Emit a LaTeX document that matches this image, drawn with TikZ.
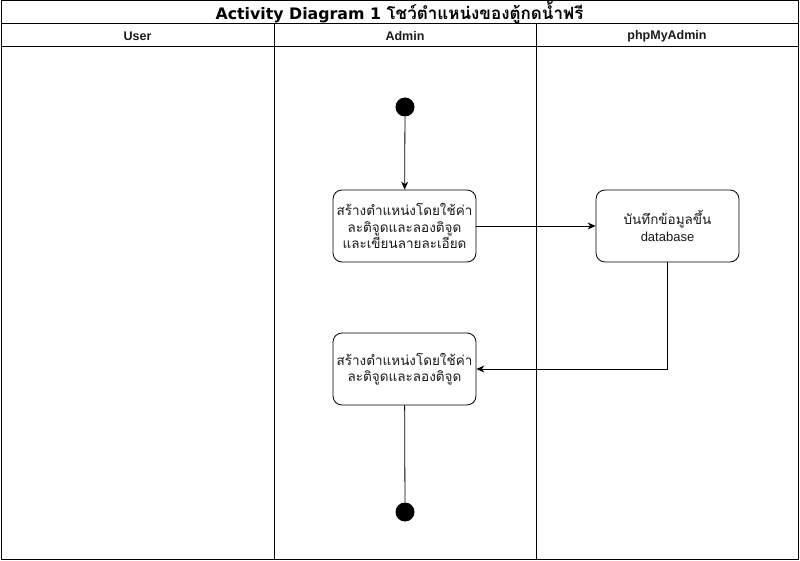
\documentclass[tikz,border=0pt]{standalone}
\usepackage{fontspec}
\setmainfont{Liberation Sans}
\newfontfamily\thaifont[Script=Thai]{Loma}
\newfontfamily\titlefont{DejaVu Sans}
\usetikzlibrary{arrows.meta}
\definecolor{txt}{HTML}{1A1A1A}
\begin{document}
\begin{tikzpicture}[x=1pt,y=-1pt,
  lane/.style={draw=black,line width=1pt},
  act/.style={draw=black,line width=0.8pt,rounded corners=9pt,fill=white,align=center,
    text=txt,font=\fontsize{13.5}{16.5}\selectfont\thaifont,inner sep=0pt},
  dot/.style={circle,fill=black,minimum size=19pt,inner sep=0pt},
  flow/.style={draw=black,line width=0.8pt,-{Stealth[length=8pt,width=7pt]}},
  hdr/.style={text=txt,font=\fontsize{12.5}{14}\selectfont\bfseries}]
\useasboundingbox (0,0) rectangle (800,561);
\fill[white] (0,0) rectangle (800,561);
% frame
\draw[lane] (1,1) rectangle (798,559);
\draw[lane] (1,24) -- (798,24);
\draw[lane] (1,47) -- (798,47);
\draw[lane] (274,24) -- (274,559);
\draw[lane] (536,24) -- (536,559);
% titles
\node (title) at (399.5,13) {\fontsize{15.8}{18}\selectfont\titlefont\bfseries Activity Diagram 1 {\thaifont\bfseries\fontsize{17}{18}\selectfont โชว์ตำแหน่งของตู้กดน้ำฟรี}};
\node[hdr] (huser) at (137.5,36) {User};
\node[hdr] (hadmin) at (405,36) {Admin};
\node[hdr] (hphp) at (667,36) {phpMyAdmin};
% nodes
\node[dot] (start) at (405,107) {};
\node[act,minimum width=143pt,minimum height=72pt] (a1) at (404.5,226)
  {สร้างตำแหน่งโดยใช้ค่า\\ละติจูดและลองติจูด\\และเขียนลายละเอียด};
\node[act,minimum width=143pt,minimum height=72pt] (a2) at (667.5,226)
  {บันทึกข้อมูลขึ้น\\{\normalfont\fontsize{13}{15}\selectfont database}};
\node[act,minimum width=143pt,minimum height=72pt] (a3) at (404.5,369)
  {สร้างตำแหน่งโดยใช้ค่า\\ละติจูดและลองติจูด};
\node[dot] (end) at (405,512) {};
\coordinate (bend) at (667.5,369);
% connectors
\draw[flow] (start) -- (a1);
\draw[flow] (a1) -- (a2);
\draw[flow] (a2.south) -- (bend) -- (a3.east);
\draw[line width=0.8pt] (a3) -- (end);
\end{tikzpicture}
\end{document}
